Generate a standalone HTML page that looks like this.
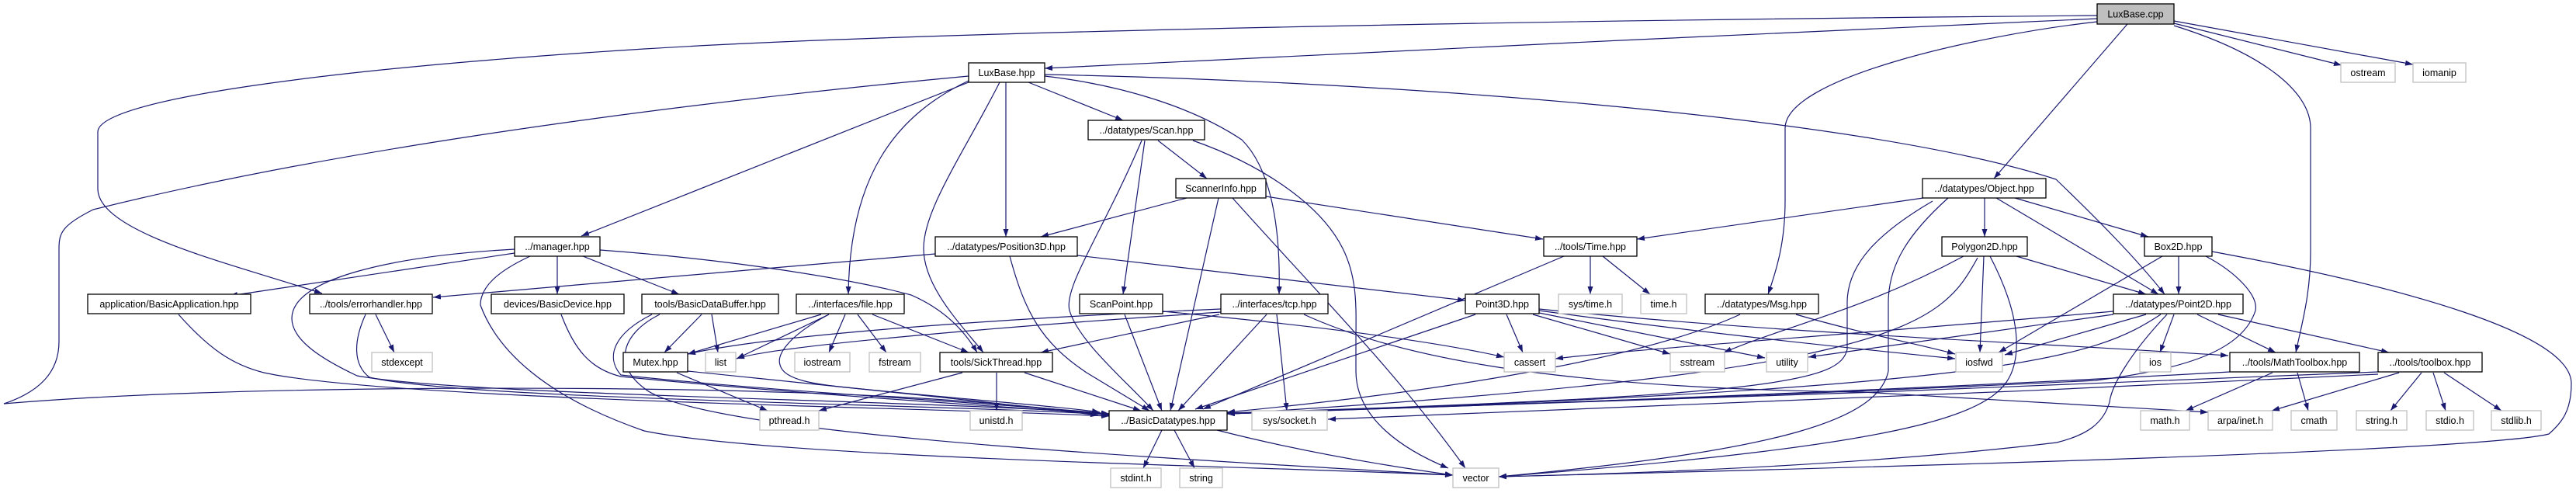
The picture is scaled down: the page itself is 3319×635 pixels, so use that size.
<!DOCTYPE html>
<html><head><meta charset="utf-8"><style>
html,body{margin:0;padding:0;background:#fff;}
svg{display:block;}
text{font-family:"Liberation Sans",sans-serif;font-size:12.5px;fill:#000;}
</style></head><body>
<svg width="3319" height="635" viewBox="0 0 3319 635" xmlns="http://www.w3.org/2000/svg">
<defs><marker id="a" markerWidth="10" markerHeight="7" refX="10" refY="3.5" orient="auto" markerUnits="userSpaceOnUse"><path d="M0,0 L10,3.5 L0,7 z" fill="#191970"/></marker></defs>
<g fill="none" stroke="#191970" stroke-width="1.2" marker-end="url(#a)">
<path d="M2702,24 C2300,40 1700,72 1346,88"/>
<path d="M2702,20 C2000,26 1200,40 830,63 C400,90 126,130 126,170 L126,243 C126,300 300,340 415,378"/>
<path d="M2702,28 C2550,45 2300,100 2300,165 L2300,259 C2300,310 2290,345 2278,379"/>
<path d="M2741,31 L2569,230"/>
<path d="M2801,30 L3017,84"/>
<path d="M2801,27 L3109,83"/>
<path d="M2801,33 C2920,70 2977,120 2977,165 L2977,324 C2977,380 2965,420 2958,454"/>
<path d="M1346,96 C1800,105 2400,150 2649,231 C2700,280 2750,330 2789,379"/>
<path d="M1248,98 C800,140 400,200 120,270 C80,290 76,300 76,320 L76,440 C76,480 50,505 5,520 C300,495 800,498 1000,505 C1200,510 1350,525 1429,535"/>
<path d="M1248,106 L749,304"/>
<path d="M1250,103 C1150,150 1095,230 1093,379"/>
<path d="M1288,106 C1240,200 1190,270 1190,320 C1190,370 1240,420 1267,454"/>
<path d="M1296,106 L1296,305"/>
<path d="M1325,106 L1447,155"/>
<path d="M1346,98 C1450,110 1540,140 1600,180 C1640,220 1650,300 1648,379"/>
<path d="M1492,181 L1555,230"/>
<path d="M1475,181 L1447,379"/>
<path d="M1471,181 C1420,300 1370,370 1378,400 C1390,440 1450,490 1486,529"/>
<path d="M1537,181 C1620,210 1700,260 1730,320 C1750,360 1747,400 1747,440 L1747,478 C1747,540 1810,580 1866,603"/>
<path d="M1529,255 L1341,305"/>
<path d="M1631,253 L1988,308"/>
<path d="M1570,255 L1508,529"/>
<path d="M1588,255 C1700,380 1800,480 1888,603"/>
<path d="M1205,327 L558,383"/>
<path d="M1388,329 L1888,387"/>
<path d="M1301,330 C1320,400 1340,440 1400,480 L1481,529"/>
<path d="M663,326 L296,381"/>
<path d="M718,330 L718,379"/>
<path d="M751,330 L875,379"/>
<path d="M773,322 C950,335 1100,360 1174,380 C1220,400 1245,430 1259,454"/>
<path d="M663,321 C500,330 376,360 376,410 C376,440 420,465 460,484 C600,510 1200,515 1429,533"/>
<path d="M683,330 C640,350 619,370 619,393 C640,450 700,510 830,555 C1000,590 1600,600 1872,612"/>
<path d="M484,405 L508,454"/>
<path d="M471,405 C455,440 455,470 476,486 C600,515 1200,520 1429,534"/>
<path d="M230,405 C270,450 300,470 340,480 C500,515 1200,525 1429,536"/>
<path d="M723,405 C740,450 760,475 800,485 C1000,505 1300,525 1429,533"/>
<path d="M904,405 L856,454"/>
<path d="M917,405 L925,454"/>
<path d="M840,405 C790,430 780,460 800,483 C1000,505 1300,520 1429,533"/>
<path d="M850,405 C800,430 790,470 830,500 C900,560 1500,590 1872,612"/>
<path d="M1058,405 L886,456"/>
<path d="M1068,405 L949,462"/>
<path d="M1089,405 L1068,454"/>
<path d="M1105,405 L1142,454"/>
<path d="M1124,405 L1248,454"/>
<path d="M1068,405 C1020,430 1000,455 1005,470 C1010,490 1050,495 1100,500 C1250,515 1380,525 1417,531"/>
<path d="M872,480 L989,529"/>
<path d="M886,478 C1100,500 1300,520 1415,535"/>
<path d="M1240,480 L1055,529"/>
<path d="M1284,480 L1284,529"/>
<path d="M1320,480 L1470,529"/>
<path d="M1449,405 L1497,529"/>
<path d="M1498,401 C1700,420 1850,440 1938,460"/>
<path d="M1573,402 C1300,420 1000,445 949,462"/>
<path d="M1573,398 C1300,410 1000,430 886,456"/>
<path d="M1571,405 L1341,454"/>
<path d="M1632,405 L1518,529"/>
<path d="M1645,405 L1658,529"/>
<path d="M1680,405 C1800,460 2000,500 2400,505 L2845,531"/>
<path d="M1901,405 L1540,527"/>
<path d="M1941,405 L1962,454"/>
<path d="M1975,405 L2152,456"/>
<path d="M1983,403 L2274,461"/>
<path d="M1983,400 C2200,430 2400,450 2519,462"/>
<path d="M1983,398 C2300,430 2600,440 2871,458"/>
<path d="M2015,330 L1550,527"/>
<path d="M2049,330 L2049,379"/>
<path d="M2065,330 L2126,379"/>
<path d="M2242,405 C2100,470 1800,510 1581,531"/>
<path d="M2314,405 C2400,430 2480,445 2519,456"/>
<path d="M2478,255 L2109,308"/>
<path d="M2557,255 L2557,305"/>
<path d="M2596,255 L2768,305"/>
<path d="M2572,255 L2781,379"/>
<path d="M2490,259 C2420,300 2380,340 2380,390 L2380,450 C2370,490 2300,510 1581,532"/>
<path d="M2510,255 C2460,300 2433,340 2433,390 L2433,478 C2420,540 2300,580 1931,614"/>
<path d="M2598,330 L2765,379"/>
<path d="M2556,330 L2551,454"/>
<path d="M2530,330 C2400,400 2300,420 2221,454"/>
<path d="M2548,332 C2500,420 2450,480 1581,533"/>
<path d="M2564,330 C2590,380 2605,430 2595,470 C2580,530 2500,570 1931,614"/>
<path d="M2807,330 L2807,379"/>
<path d="M2786,330 L2575,454"/>
<path d="M2842,330 C2880,350 2910,380 2906,400 C2890,450 2820,475 2700,490 C2300,510 1800,525 1581,533"/>
<path d="M2850,324 C3100,370 3313,430 3313,494 C3313,530 3300,545 3284,559 C3200,580 2500,600 1931,614"/>
<path d="M2765,405 L2583,457"/>
<path d="M2801,405 L2783,454"/>
<path d="M2831,405 L2932,454"/>
<path d="M2858,405 L3078,454"/>
<path d="M2723,401 C2400,430 2100,450 2004,462"/>
<path d="M2723,405 C2550,430 2400,450 2330,460"/>
<path d="M2784,405 C2700,460 2600,500 1581,533"/>
<path d="M2792,405 C2740,460 2720,500 2718,518 C2710,545 2690,560 2650,570 C2400,600 2100,610 1931,614"/>
<path d="M2928,480 L2816,529"/>
<path d="M2960,480 L2974,529"/>
<path d="M2873,479 C2500,500 2000,520 1581,533"/>
<path d="M3091,480 L2927,529"/>
<path d="M3120,480 L3080,529"/>
<path d="M3135,480 L3151,529"/>
<path d="M3149,480 L3223,529"/>
<path d="M3064,479 C2600,500 2000,520 1581,533"/>
<path d="M3064,482 C2600,505 2000,530 1711,540"/>
<path d="M1497,554 L1473,603"/>
<path d="M1513,554 L1539,603"/>
<path d="M1568,554 C1650,575 1750,595 1872,612"/>
</g>
<g id="nodes" text-anchor="middle">
<rect x="2702" y="5" width="99" height="26" fill="#bfbfbf" stroke="#000" stroke-width="1.3"/><text x="2751.5" y="22.5">LuxBase.cpp</text>
<rect x="1248" y="81" width="98" height="25" fill="#fff" stroke="#000" stroke-width="1.3"/><text x="1297" y="98">LuxBase.hpp</text>
<rect x="3016" y="81" width="70" height="25" fill="#fff" stroke="#bfbfbf" stroke-width="1.3"/><text x="3051" y="98">ostream</text>
<rect x="3109" y="81" width="68" height="25" fill="#fff" stroke="#bfbfbf" stroke-width="1.3"/><text x="3143" y="98">iomanip</text>
<rect x="1402" y="155" width="150" height="25" fill="#fff" stroke="#000" stroke-width="1.3"/><text x="1477" y="172">../datatypes/Scan.hpp</text>
<rect x="1515" y="230" width="116" height="25" fill="#fff" stroke="#000" stroke-width="1.3"/><text x="1573" y="247">ScannerInfo.hpp</text>
<rect x="2477" y="230" width="159" height="25" fill="#fff" stroke="#000" stroke-width="1.3"/><text x="2556.5" y="247">../datatypes/Object.hpp</text>
<rect x="663" y="305" width="110" height="25" fill="#fff" stroke="#000" stroke-width="1.3"/><text x="718" y="322">../manager.hpp</text>
<rect x="1205" y="305" width="183" height="25" fill="#fff" stroke="#000" stroke-width="1.3"/><text x="1296.5" y="322">../datatypes/Position3D.hpp</text>
<rect x="1989" y="305" width="120" height="25" fill="#fff" stroke="#000" stroke-width="1.3"/><text x="2049" y="322">../tools/Time.hpp</text>
<rect x="2502" y="305" width="110" height="25" fill="#fff" stroke="#000" stroke-width="1.3"/><text x="2557" y="322">Polygon2D.hpp</text>
<rect x="2763" y="305" width="87" height="25" fill="#fff" stroke="#000" stroke-width="1.3"/><text x="2806.5" y="322">Box2D.hpp</text>
<rect x="113" y="379" width="210" height="25" fill="#fff" stroke="#000" stroke-width="1.3"/><text x="218" y="396">application/BasicApplication.hpp</text>
<rect x="399" y="379" width="158" height="25" fill="#fff" stroke="#000" stroke-width="1.3"/><text x="478" y="396">../tools/errorhandler.hpp</text>
<rect x="633" y="379" width="171" height="25" fill="#fff" stroke="#000" stroke-width="1.3"/><text x="718.5" y="396">devices/BasicDevice.hpp</text>
<rect x="827" y="379" width="176" height="25" fill="#fff" stroke="#000" stroke-width="1.3"/><text x="915" y="396">tools/BasicDataBuffer.hpp</text>
<rect x="1026" y="379" width="139" height="25" fill="#fff" stroke="#000" stroke-width="1.3"/><text x="1095.5" y="396">../interfaces/file.hpp</text>
<rect x="1391" y="379" width="107" height="25" fill="#fff" stroke="#000" stroke-width="1.3"/><text x="1444.5" y="396">ScanPoint.hpp</text>
<rect x="1573" y="379" width="138" height="25" fill="#fff" stroke="#000" stroke-width="1.3"/><text x="1642" y="396">../interfaces/tcp.hpp</text>
<rect x="1888" y="379" width="95" height="25" fill="#fff" stroke="#000" stroke-width="1.3"/><text x="1935.5" y="396">Point3D.hpp</text>
<rect x="2008" y="379" width="82" height="25" fill="#fff" stroke="#bfbfbf" stroke-width="1.3"/><text x="2049" y="396">sys/time.h</text>
<rect x="2114" y="379" width="59" height="25" fill="#fff" stroke="#bfbfbf" stroke-width="1.3"/><text x="2143.5" y="396">time.h</text>
<rect x="2197" y="379" width="146" height="25" fill="#fff" stroke="#000" stroke-width="1.3"/><text x="2270" y="396">../datatypes/Msg.hpp</text>
<rect x="2723" y="379" width="167" height="25" fill="#fff" stroke="#000" stroke-width="1.3"/><text x="2806.5" y="396">../datatypes/Point2D.hpp</text>
<rect x="479" y="454" width="78" height="25" fill="#fff" stroke="#bfbfbf" stroke-width="1.3"/><text x="518" y="471">stdexcept</text>
<rect x="803" y="454" width="83" height="25" fill="#fff" stroke="#000" stroke-width="1.3"/><text x="844.5" y="471">Mutex.hpp</text>
<rect x="909" y="454" width="39" height="25" fill="#fff" stroke="#bfbfbf" stroke-width="1.3"/><text x="928.5" y="471">list</text>
<rect x="1024" y="454" width="71" height="25" fill="#fff" stroke="#bfbfbf" stroke-width="1.3"/><text x="1059.5" y="471">iostream</text>
<rect x="1120" y="454" width="66" height="25" fill="#fff" stroke="#bfbfbf" stroke-width="1.3"/><text x="1153" y="471">fstream</text>
<rect x="1211" y="454" width="145" height="25" fill="#fff" stroke="#000" stroke-width="1.3"/><text x="1283.5" y="471">tools/SickThread.hpp</text>
<rect x="1938" y="454" width="66" height="25" fill="#fff" stroke="#bfbfbf" stroke-width="1.3"/><text x="1971" y="471">cassert</text>
<rect x="2152" y="454" width="70" height="25" fill="#fff" stroke="#bfbfbf" stroke-width="1.3"/><text x="2187" y="471">sstream</text>
<rect x="2276" y="454" width="53" height="25" fill="#fff" stroke="#bfbfbf" stroke-width="1.3"/><text x="2302.5" y="471">utility</text>
<rect x="2520" y="454" width="60" height="25" fill="#fff" stroke="#bfbfbf" stroke-width="1.3"/><text x="2550" y="471">iosfwd</text>
<rect x="2757" y="454" width="40" height="25" fill="#fff" stroke="#bfbfbf" stroke-width="1.3"/><text x="2777" y="471">ios</text>
<rect x="2873" y="454" width="167" height="25" fill="#fff" stroke="#000" stroke-width="1.3"/><text x="2956.5" y="471">../tools/MathToolbox.hpp</text>
<rect x="3064" y="454" width="134" height="25" fill="#fff" stroke="#000" stroke-width="1.3"/><text x="3131" y="471">../tools/toolbox.hpp</text>
<rect x="979" y="529" width="76" height="25" fill="#fff" stroke="#bfbfbf" stroke-width="1.3"/><text x="1017" y="546">pthread.h</text>
<rect x="1250" y="529" width="67" height="25" fill="#fff" stroke="#bfbfbf" stroke-width="1.3"/><text x="1283.5" y="546">unistd.h</text>
<rect x="1429" y="529" width="152" height="25" fill="#fff" stroke="#000" stroke-width="1.3"/><text x="1505" y="546">../BasicDatatypes.hpp</text>
<rect x="1613" y="529" width="97" height="25" fill="#fff" stroke="#bfbfbf" stroke-width="1.3"/><text x="1661.5" y="546">sys/socket.h</text>
<rect x="2758" y="529" width="63" height="25" fill="#fff" stroke="#bfbfbf" stroke-width="1.3"/><text x="2789.5" y="546">math.h</text>
<rect x="2845" y="529" width="83" height="25" fill="#fff" stroke="#bfbfbf" stroke-width="1.3"/><text x="2886.5" y="546">arpa/inet.h</text>
<rect x="2952" y="529" width="59" height="25" fill="#fff" stroke="#bfbfbf" stroke-width="1.3"/><text x="2981.5" y="546">cmath</text>
<rect x="3036" y="529" width="65" height="25" fill="#fff" stroke="#bfbfbf" stroke-width="1.3"/><text x="3068.5" y="546">string.h</text>
<rect x="3126" y="529" width="61" height="25" fill="#fff" stroke="#bfbfbf" stroke-width="1.3"/><text x="3156.5" y="546">stdio.h</text>
<rect x="3210" y="529" width="64" height="25" fill="#fff" stroke="#bfbfbf" stroke-width="1.3"/><text x="3242" y="546">stdlib.h</text>
<rect x="1431" y="603" width="65" height="25" fill="#fff" stroke="#bfbfbf" stroke-width="1.3"/><text x="1463.5" y="620">stdint.h</text>
<rect x="1520" y="603" width="55" height="25" fill="#fff" stroke="#bfbfbf" stroke-width="1.3"/><text x="1547.5" y="620">string</text>
<rect x="1872" y="603" width="59" height="25" fill="#fff" stroke="#bfbfbf" stroke-width="1.3"/><text x="1901.5" y="620">vector</text>
</g>
</svg>
</body></html>
